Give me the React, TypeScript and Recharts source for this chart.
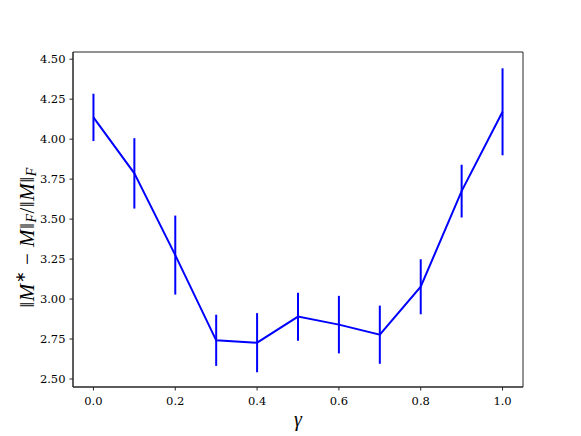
import { LineChart, Line, XAxis, YAxis, ErrorBar, Label, ReferenceArea } from "recharts"

// gamma values on the x axis
const gammas = [0.0, 0.1, 0.2, 0.3, 0.4, 0.5, 0.6, 0.7, 0.8, 0.9, 1.0]
// mean relative error per gamma
const meanErrors = [4.136, 3.786, 3.275, 2.742, 2.727, 2.89, 2.84, 2.777, 3.077, 3.675, 4.171]
// half-length of each error bar
const errorSpread = [0.148, 0.22, 0.247, 0.16, 0.185, 0.15, 0.18, 0.182, 0.172, 0.165, 0.272]

const xTicks = [0, 0.2, 0.4, 0.6, 0.8, 1.0]
const yTicks = [2.5, 2.75, 3.0, 3.25, 3.5, 3.75, 4.0, 4.25, 4.5]

const X_DOMAIN: [number, number] = [-0.05, 1.05]
const Y_DOMAIN: [number, number] = [2.45, 4.545]

const data = gammas.map((g, i) => ({ gamma: g, value: meanErrors[i], err: errorSpread[i] }))

const FONT = "'DejaVu Serif', serif"
const MATH = "'Liberation Serif', serif"
const AXIS = "#262626"

const GammaLabel = (props: any) => {
  const vb = props.viewBox
  return (
    <text
      x={vb.x + vb.width / 2}
      y={vb.y + 39}
      textAnchor="middle"
      style={{ fontFamily: MATH, fontStyle: "italic", fontSize: 20 }}
      fill="#000"
    >
      γ
    </text>
  )
}

const NormLabel = (props: any) => {
  const vb = props.viewBox
  const cx = 27
  const cy = vb.y + vb.height / 2 + 18
  return (
    <text
      x={cx}
      y={cy}
      transform={`rotate(-90, ${cx}, ${cy})`}
      textAnchor="middle"
      dominantBaseline="central"
      style={{ fontFamily: MATH, fontSize: 21, letterSpacing: 0.5 }}
      fill="#000"
    >
      ‖<tspan fontStyle="italic">M</tspan>
      <tspan fontSize={14} dy={-7}>∗</tspan>
      <tspan dy={7}> − </tspan>
      <tspan fontStyle="italic">M</tspan>‖
      <tspan fontStyle="italic" fontSize={14} dy={4}>F</tspan>
      <tspan dy={-4}>/‖</tspan>
      <tspan fontStyle="italic">M</tspan>‖
      <tspan fontStyle="italic" fontSize={14} dy={4}>F</tspan>
    </text>
  )
}

export default function App() {
  return (
    <div style={{ position: "absolute", left: 0, top: 0, width: 581, height: 436, background: "#fff", fontFamily: FONT }}>
      <LineChart
        width={581}
        height={436}
        data={data}
        margin={{ top: 52, right: 58, bottom: 19, left: 13 }}
      >
        <XAxis
          dataKey="gamma"
          type="number"
          domain={X_DOMAIN}
          ticks={xTicks}
          tickFormatter={(v: number) => v.toFixed(1)}
          height={30}
          tickSize={3.5}
          tickMargin={6}
          stroke={AXIS}
          tick={{ fill: "#000", fontSize: 11.5, style: { fontFamily: FONT } }}
          allowDataOverflow
        >
          <Label content={GammaLabel} />
        </XAxis>
        <YAxis
          type="number"
          domain={Y_DOMAIN}
          ticks={yTicks}
          tickFormatter={(v: number) => v.toFixed(2)}
          width={60}
          tickSize={3.5}
          tickMargin={4}
          stroke={AXIS}
          tick={{ fill: "#000", fontSize: 11.5, style: { fontFamily: FONT } }}
          allowDataOverflow
        >
          <Label content={NormLabel} />
        </YAxis>
        {/* axes frame */}
        <ReferenceArea
          x1={X_DOMAIN[0]}
          x2={X_DOMAIN[1]}
          y1={Y_DOMAIN[0]}
          y2={Y_DOMAIN[1]}
          fill="none"
          fillOpacity={0}
          stroke={AXIS}
          strokeWidth={1}
          ifOverflow="visible"
        />
        <Line
          dataKey="value"
          stroke="#0000ff"
          strokeWidth={2}
          dot={false}
          isAnimationActive={false}
        >
          <ErrorBar dataKey="err" width={0} stroke="#0000ff" strokeWidth={2} direction="y" />
        </Line>
      </LineChart>
    </div>
  )
}
